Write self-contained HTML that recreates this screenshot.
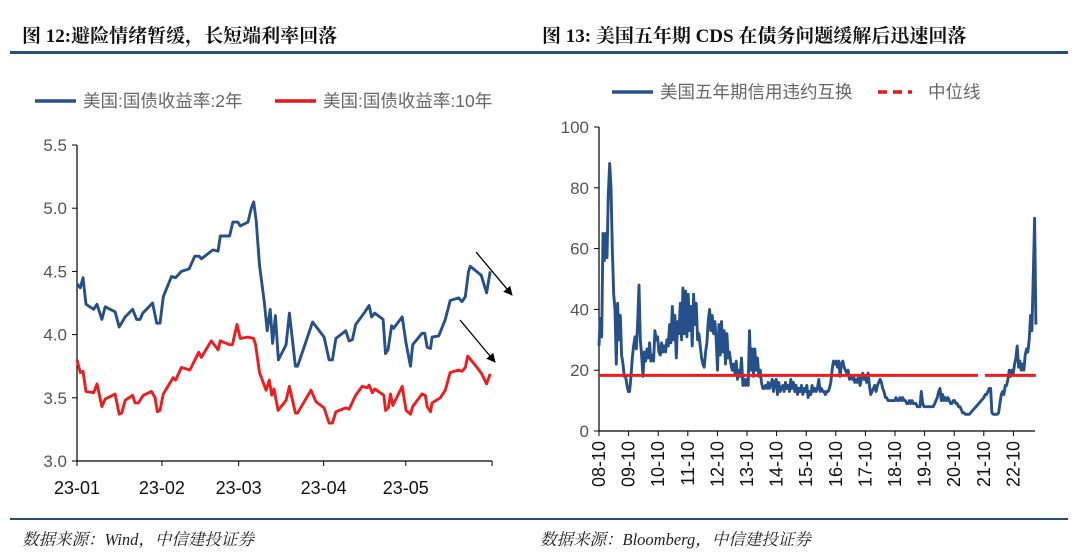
<!DOCTYPE html>
<html><head><meta charset="utf-8">
<style>
body{margin:0;width:1080px;height:559px;background:#fff;overflow:hidden;font-family:"Liberation Sans","Noto Sans CJK SC",sans-serif;}
svg{position:absolute;left:0;top:0}
.t{font-family:"Liberation Serif","Noto Serif CJK SC","Noto Sans CJK SC",serif;font-weight:bold;font-size:19px;fill:#111}
.tick{font-size:17px;fill:#555}
.leg{font-size:17.5px;fill:#666;font-family:"Liberation Sans","Noto Sans CJK SC",sans-serif}
.src{font-family:"Liberation Serif","Noto Serif CJK SC",serif;font-style:italic;font-size:16.5px;fill:#222}
</style></head><body>
<svg id="s" width="1080" height="559">
<text class="t" x="22" y="42">图  12:避险情绪暂缓，长短端利率回落</text>
<text class="t" x="542" y="42">图  13:  美国五年期 CDS 在债务问题缓解后迅速回落</text>
<rect x="10" y="51" width="1058" height="3" fill="#2a4d78"/>
<rect x="10" y="518" width="1058" height="2" fill="#2a4d78"/>
<text class="src" x="22" y="545">数据来源：Wind，中信建投证券</text>
<text class="src" x="540" y="545">数据来源：Bloomberg，中信建投证券</text>

<g>
<line x1="35" y1="101" x2="76" y2="101" stroke="#2a5288" stroke-width="3.5"/>
<text class="leg" x="83" y="107">美国:国债收益率:2年</text>
<line x1="275" y1="101" x2="316" y2="101" stroke="#e8141b" stroke-width="3.5"/>
<text class="leg" x="323" y="107">美国:国债收益率:10年</text>
</g>
<g>
<line x1="612" y1="92" x2="653" y2="92" stroke="#2a5288" stroke-width="3.5"/>
<text class="leg" x="660" y="98">美国五年期信用违约互换</text>
<line x1="878" y1="92" x2="912" y2="92" stroke="#e8141b" stroke-width="3.5" stroke-dasharray="9 6"/>
<text class="leg" x="928" y="98">中位线</text>
</g>
<g id="L"></g><g id="R"></g>
<defs><marker id="ah" viewBox="0 0 10 10" refX="9" refY="5" markerWidth="7" markerHeight="7" orient="auto"><path d="M0,0L10,5L0,10z" fill="#000"/></marker></defs>
<line x1="476" y1="252" x2="512" y2="295" stroke="#000" stroke-width="1.3" marker-end="url(#ah)"/>
<line x1="460" y1="320" x2="495" y2="362" stroke="#000" stroke-width="1.3" marker-end="url(#ah)"/>
</svg>
<script>
const NS="http://www.w3.org/2000/svg";
// Left chart data (day of 2023, value %)
const y2Days=[0,1.2,2.2,3.3,6.1,7.3,9.1,10.3,13.9,15.4,17.6,20.3,21.8,23,24,27.6,29.1,30.3,31.5,34.5,36,38.1,40.9,43,44.6,45.4,49.6,51.5,52.3,55.7,56.9,58.7,59.6,62.4,63.6,64.5,65.4,66.6,68.4,69.4,70.5,71.4,72.4,73.5,76.3,77.5,79.7,80.5,86,90.2,92,93.2,94.5,98.1,99.3,100.5,101.7,105.1,106.6,107.5,108.7,111.7,112.6,113.5,114.8,115.6,118.7,120.1,121.7,122.5,125.9,126.9,127.8,129,129.6,132,134.4,136.2,139.3,140.5,141.7,142.9,143.5,147.5,149.5,150.8];
const y2Vals=[4.40,4.37,4.45,4.24,4.20,4.24,4.12,4.22,4.18,4.06,4.14,4.20,4.12,4.12,4.17,4.25,4.09,4.09,4.30,4.46,4.45,4.50,4.52,4.62,4.62,4.60,4.67,4.66,4.78,4.78,4.89,4.89,4.86,4.89,5.00,5.05,4.90,4.55,4.25,4.03,4.20,3.93,4.15,3.80,3.92,4.17,3.75,3.75,4.10,3.98,3.80,3.80,3.97,4.03,3.95,3.96,4.08,4.18,4.23,4.14,4.17,4.12,3.85,3.88,4.07,4.05,4.14,3.93,3.75,3.92,4.01,4.01,3.90,3.89,3.98,3.99,4.12,4.27,4.29,4.26,4.30,4.50,4.54,4.47,4.33,4.50];
const y10Days=[0,1.2,2.2,3.3,6.1,7.3,9.1,10.3,13.9,15.4,16.3,17.6,20.3,21.2,22.4,24.2,27.2,28.5,29.3,30.3,31.5,35.1,36,38.1,41.2,44.4,45.4,49,51.5,52.3,55.7,56.7,58.4,59.6,62.4,64.4,65.2,66.6,69,70.2,71.1,71.9,73.4,76.3,77.5,79.7,80.5,85.4,87.2,90.2,92,93.2,94.5,98.1,99.3,101.7,104.1,106,106.6,107.8,108.7,112,112.6,113.6,114.4,115.3,118.7,120.1,121.7,122.5,125.9,127.1,127.8,129,129.6,132.6,134.4,136.2,139.3,140.5,141.7,142.6,145.3,147.7,149.5,150.8];
const y10Vals=[3.80,3.70,3.71,3.55,3.54,3.61,3.43,3.49,3.53,3.37,3.38,3.48,3.52,3.46,3.46,3.52,3.55,3.50,3.39,3.40,3.53,3.66,3.64,3.74,3.72,3.86,3.82,3.95,3.88,3.95,3.92,3.92,4.08,3.97,3.98,3.97,3.92,3.70,3.56,3.64,3.52,3.57,3.40,3.48,3.59,3.38,3.38,3.56,3.47,3.42,3.30,3.30,3.39,3.42,3.41,3.52,3.59,3.58,3.60,3.54,3.57,3.52,3.40,3.42,3.53,3.44,3.59,3.40,3.37,3.43,3.53,3.52,3.43,3.39,3.46,3.50,3.56,3.70,3.72,3.71,3.74,3.83,3.76,3.69,3.61,3.69];
const leftYTicks=[3.0,3.5,4.0,4.5,5.0,5.5];
const leftXTicks=["23-01","23-02","23-03","23-04","23-05"];
const leftXTickDays=[0,31,59,90,120];
// Right chart data: evenly spaced observations from 2008-10, step in years
const cdsStart=2008.75, cdsStep=0.045;
const cdsVals=[28,37,31,65,56,65,57,78,88,80,60,45,40,22,42,30,38,25,22,18,
18,15,13,13,18,24,28,31,27,35,48,30,25,18,26,23,27,24,29,23,25,23,33,30,31,26,25,29,26,28,26,30,28,35,29,41,30,38,24,36,32,42,30,47,32,46,31,45,33,41,28,45,35,42,30,32,28,24,22,21,26,29,36,40,33,38,32,36,30,20,35,25,36,26,33,22,32,24,26,22,20,22,19,23,17,20,18,24,15,17,15,17,15,33,20,27,18,27,20,24,18,20,16,14,14,15,14,16,14,15,17,13,16,17,12,16,13,14,15,13,16,14,15,13,17,14,16,13,15,12,14,13,15,12,14,13,15,11,13,12,15,13,14,13,14,17,13,14,13,13,12,13,13,14,16,20,23,22,23,21,23,18,22,23,21,20,19,20,17,18,17,18,16,17,16,18,15,17,19,17,18,16,19,15,12,13,14,15,13,15,16,17,16,14,13,11,
11,10,10,10,10,10,10,11,10,10,11,10,11,10,10,9,9,10,9,10,9,9,9,8,8,8,13,9,8,8,8,8,8,8,8,8,9,10,11,13,14,10,12,10,11,10,11,10,9,9,10,10,9,9,8,8,7,6,6,5.5,5.5,5.5,5.5,6,6.5,7,7.5,8,8.5,9,9.5,10,10.5,11,12,12,13,14,14,6,5.5,5.5,5.5,5.5,6,9,12,13,12,15,15,17,20,18,20,19,22,24,28,21,23,20,22,20,25,27,26,30,38,33,50,70,35];
const cdsMedian=[18.3];
const rightYTicks=[0,20,40,60,80,100];
const rightXTicks=["08-10","09-10","10-10","11-10","12-10","13-10","14-10","15-10","16-10","17-10","18-10","19-10","20-10","21-10","22-10"];
const rightXTickYears=[2008.75,2009.75,2010.75,2011.75,2012.75,2013.75,2014.75,2015.75,2016.75,2017.75,2018.75,2019.75,2020.75,2021.75,2022.75];

function el(t,a,p){const e=document.createElementNS(NS,t);for(const k in a)e.setAttribute(k,a[k]);p.appendChild(e);return e;}
// Left axes
const L=document.getElementById('L');
const lx=d=>77+d*2.74, ly=v=>461-(v-3)*126.4;
let ax=el('line',{x1:77,y1:145,x2:77,y2:461,stroke:'#000','stroke-width':1.2},L);


ax=el('line',{x1:77,y1:461,x2:lx(151.5),y2:461,stroke:'#000','stroke-width':1.2},L);


leftYTicks.forEach(v=>{
 el('line',{x1:72,x2:77,y1:ly(v),y2:ly(v),stroke:'#000'},L);
 const t=el('text',{x:67,y:ly(v)+6,'text-anchor':'end',class:'tick'},L);t.textContent=v.toFixed(1);
 
 
});
leftXTicks.forEach((s,i)=>{
 const x=lx(leftXTickDays[i]);
 el('line',{x1:x,x2:x,y1:461,y2:466,stroke:'#000'},L);
 const t=el('text',{x:x,y:494,'text-anchor':'middle',class:'tick',style:'fill:#111;font-size:18px'},L);t.textContent=s;
 
 
});
el('line',{x1:lx(151.5),x2:lx(151.5),y1:461,y2:466,stroke:'#000'},L);
function poly(xs,ys,fx,fy,c,p,name){
 const pts=xs.map((x,i)=>fx(x).toFixed(1)+','+fy(ys[i]).toFixed(1)).join(' ');
 const e=el('polyline',{points:pts,fill:'none',stroke:c,'stroke-width':2.9,'stroke-linejoin':'round'},p);
 
 
}
poly(y10Days,y10Vals,lx,ly,'#ee1c1c',L,'line-10y-yield');
poly(y2Days,y2Vals,lx,ly,'#25508a',L,'line-2y-yield');
// Right
const R=document.getElementById('R');
const rx=y=>599+(y-2008.75)*29.6, ry=v=>431-v*3.04;
ax=el('line',{x1:599,y1:127,x2:599,y2:431,stroke:'#000','stroke-width':1.2},R);


ax=el('line',{x1:599,y1:431,x2:1035,y2:431,stroke:'#000','stroke-width':1.2},R);


rightYTicks.forEach(v=>{
 el('line',{x1:594,x2:599,y1:ry(v),y2:ry(v),stroke:'#000'},R);
 const t=el('text',{x:589,y:ry(v)+6,'text-anchor':'end',class:'tick'},R);t.textContent=v;
 
 
});
rightXTicks.forEach((s,i)=>{
 const x=rx(rightXTickYears[i]);
 el('line',{x1:x,x2:x,y1:431,y2:436,stroke:'#000'},R);
 const t=el('text',{x:0,y:0,transform:`translate(${x+6},${441}) rotate(-90)`,'text-anchor':'end',class:'tick',style:'fill:#111;font-size:18px'},R);t.textContent=s;
 
 
});
const cdsYears=cdsVals.map((v,i)=>cdsStart+i*cdsStep);
poly(cdsYears,cdsVals,rx,ry,'#25508a',R,'line-cds');
const m=el('line',{x1:599,x2:rx(cdsYears[cdsYears.length-1]),y1:ry(cdsMedian[0]),y2:ry(cdsMedian[0]),stroke:'#ee1c1c','stroke-width':3,'stroke-dasharray':'379 7 100'},R);


</script>
</body></html>
